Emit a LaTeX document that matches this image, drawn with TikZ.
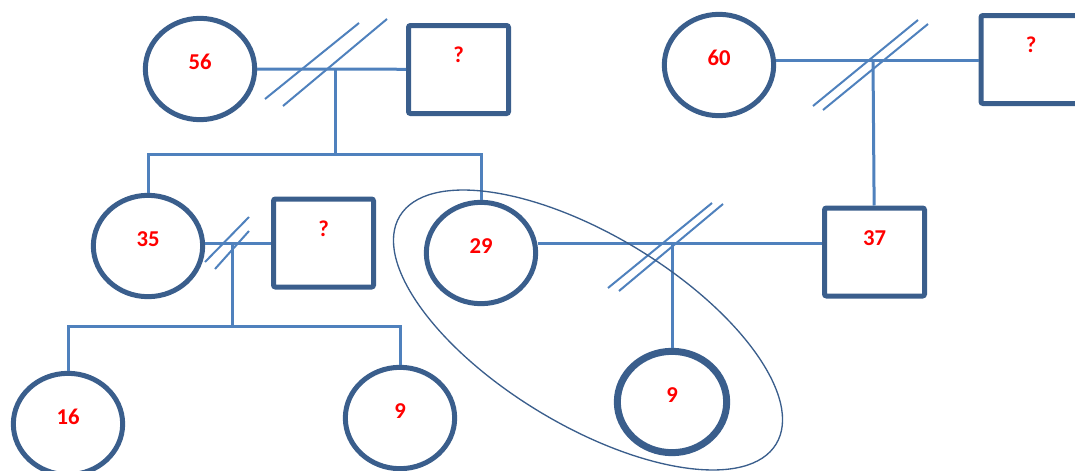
\documentclass[tikz,border=0pt]{standalone}
\usepackage{fontspec}
\setmainfont{Carlito}
\usetikzlibrary{shapes.geometric}
\definecolor{shapeblue}{HTML}{3A5E8C}
\definecolor{lineblue}{HTML}{4F81BD}
\begin{document}
\begin{tikzpicture}[x=0.75pt,y=-0.75pt,
      every node/.style={font=\fontsize{17}{20}\selectfont\bfseries,text=red},
      female/.style={ellipse,draw=shapeblue,line width=3.75pt,inner sep=0pt,
        minimum width=82pt,minimum height=76pt,text height=0pt,text depth=0pt},
      male/.style={rectangle,draw=shapeblue,line width=3.75pt,rounded corners=1.5pt,
        inner sep=0pt,minimum width=75pt,minimum height=66pt,text height=0pt,text depth=10pt},
      link/.style={draw=lineblue,line width=2.25pt},
      slash/.style={draw=lineblue,line width=1.5pt}]

      \useasboundingbox (0,0) rectangle (1075,471);

      \node[female] (n56) at (200,69) {56};
      \node[male] (q1) at (458.5,69.5) {?};
      \node[female] (n60) at (719,65) {60};
      \node[male] (q2) at (1031,59.5) {?};
      \node[female] (n35) at (148,246) {35};
      \node[male] (q3) at (323.5,243) {?};
      \node[female] (n29) at (481,253) {29};
      \node[male] (n37) at (874.5,252) {37};
      \node[female] (n16) at (68,424) {16};
      \node[female] (n9a) at (400,418) {9};
      \node[female,line width=5.25pt] (n9b) at (672,402) {9};

      \coordinate (m1) at (335,69);
      \coordinate (sib1) at (335,154);
      \coordinate (m2) at (873,60);
      \coordinate (m3) at (672,243);
      \coordinate (m4) at (232,243);
      \coordinate (sib2) at (232,326);

      \draw[link] (n56) -- (m1) -- (q1);
      \draw[link] (m1) -- (sib1);
      \draw[link] (n35.north) |- (sib1) -| (n29.north);
      \draw[slash] (265,99) -- (359,23) (283,106) -- (387,19);

      \draw[link] (m2 -| n60.east) -- (m2) -- (m2 -| q2.west);
      \draw[link] (m2) -- (n37);
      \draw[slash] (813,106) -- (918,20) (823,110) -- (928,24);

      \draw[link] (m4 -| n35.east) -- (m4 -| q3.west);
      \draw[link] (m4) -- (sib2);
      \draw[link] (n16.north) |- (sib2) -| (n9a.north);
      \draw[slash] (205,262) -- (249,217) (215,269) -- (249,231);

      \draw[link] (m3 -| n29.east) -- (m3 -| n37.west);
      \draw[link] (m3) -- (n9b);
      \draw[slash] (608,288) -- (712,203) (619,291) -- (723,204);

      \draw[shapeblue,line width=1pt,rotate around={-31.2:(588,330)}]
        (588,330) ellipse [x radius=220,y radius=95];
    \end{tikzpicture}
\end{document}
